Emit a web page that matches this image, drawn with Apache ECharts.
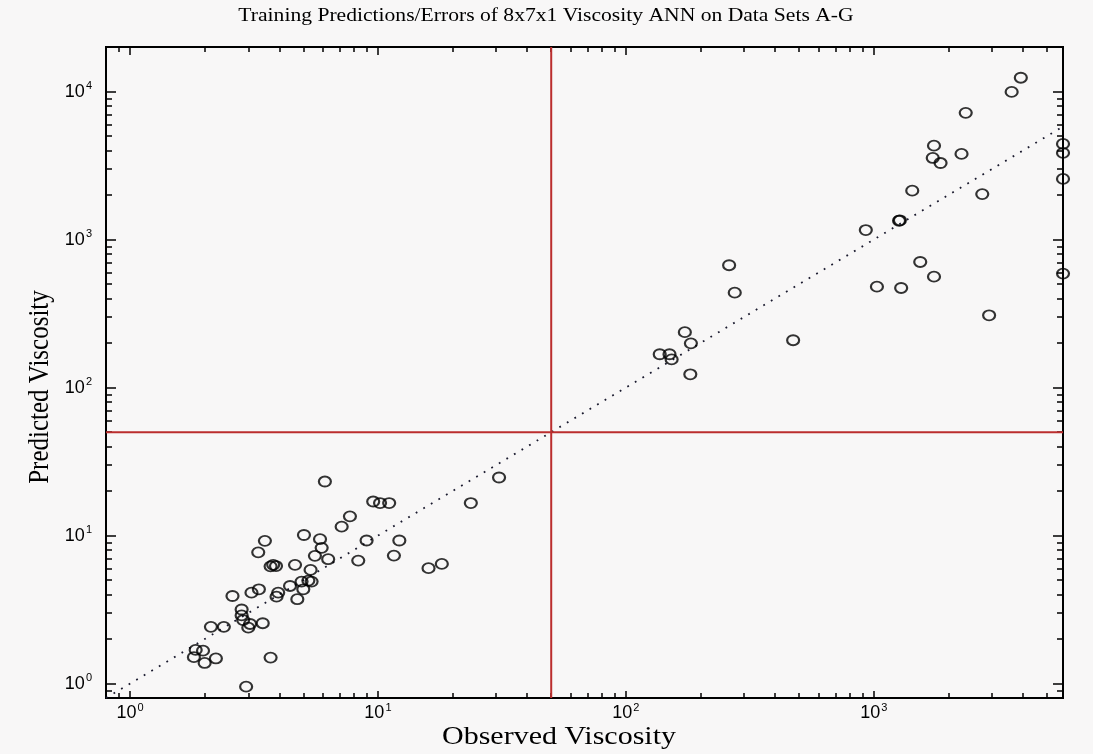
<!DOCTYPE html>
<html><head><meta charset="utf-8">
<script src="https://cdn.jsdelivr.net/npm/echarts@6/dist/echarts.min.js"></script>
<style>html,body{margin:0;padding:0;background:#f8f7f7}#c{width:1093px;height:754px}</style>
</head><body><div id="c"></div>
<script>
// ---- data ----
const observed = [
  3920, 3600, 2350, 5800, 1750, 5800, 2260, 1730, 1860, 5800,
  1430, 2740, 1265, 1275, 929, 1540, 1750, 1030, 1290, 5800,
  2920, 261, 275, 173, 183, 137, 150, 153, 182, 473,
  30.8, 23.7, 6.11, 9.57, 10.2, 11.1, 7.71, 7.14, 9.0, 12.2,
  11.6, 8.33, 18.1, 16.0, 3.50, 3.29, 5.03, 5.84, 5.93, 5.57,
  6.30, 3.78, 3.69, 3.88, 4.63, 5.35, 5.24, 4.92, 5.40, 4.42,
  5.00, 4.73, 3.31, 3.09, 2.59, 3.96, 3.90, 2.82, 2.82, 2.86,
  3.05, 3.00, 3.43, 2.12, 2.39, 1.84, 1.97, 1.81, 2.00, 2.22,
  3.69, 2.94
];
const predicted = [
  12400, 9950, 7180, 4430, 4310, 3850, 3790, 3560, 3290, 2570,
  2140, 2030, 1340, 1350, 1160, 706, 562, 481, 471, 589,
  308, 671, 438, 237, 199, 168, 168, 155, 123, 209,
  24.7, 16.6, 23.2, 17.0, 16.6, 16.6, 13.5, 11.5, 9.27, 9.27,
  7.33, 6.78, 6.44, 6.03, 9.22, 7.71, 10.1, 9.47, 8.27, 7.30,
  6.93, 6.35, 6.20, 6.23, 6.35, 5.87, 4.97, 4.89, 4.89, 4.57,
  4.34, 3.72, 4.34, 4.12, 3.91, 4.12, 3.87, 3.17, 2.89, 2.69,
  2.53, 2.39, 2.56, 2.42, 2.42, 1.69, 1.67, 1.51, 1.38, 1.48,
  1.50, 0.954
];
const xRange = [0.8, 5800];
const yRange = [0.8, 20000];
const xMajor = [1, 10, 100, 1000];
const xMinor = [0.8, 0.9, 2, 3, 4, 5, 6, 7, 8, 9, 20, 30, 40, 50, 60, 70, 80, 90,
  200, 300, 400, 500, 600, 700, 800, 900, 2000, 3000, 4000, 5000];
const yMajor = [1, 10, 100, 1000, 10000];
const yMinor = [0.8, 0.9, 2, 3, 4, 5, 6, 7, 8, 9, 20, 30, 40, 50, 60, 70, 80, 90,
  200, 300, 400, 500, 600, 700, 800, 900, 2000, 3000, 4000, 5000, 6000, 7000, 8000, 9000];
const refX = 50;   // vertical red reference line (observed)
const refY = 50;   // horizontal red reference line (predicted)
const titleText = 'Training Predictions/Errors of 8x7x1 Viscosity ANN on Data Sets A-G';
const xName = 'Observed Viscosity';
const yName = 'Predicted Viscosity';

// ---- chart ----
function labelFmt(v) {
  const e = Math.round(Math.log10(v));
  return '{b|10}{s|' + e + '}';
}
const richLabel = {
  b: {fontFamily: 'Liberation Sans', fontSize: 18, color: '#000', lineHeight: 22},
  s: {fontFamily: 'Liberation Sans', fontSize: 11, color: '#000', lineHeight: 22, verticalAlign: 'top', padding: [0,0,0,1]}
};
function axis(range, pos, ticks, len, labels, margin) {
  return {
    type: 'log', logBase: 10, min: range[0], max: range[1], position: pos,
    axisLine: {show: true, onZero: false, lineStyle: {color: '#000', width: 2}},
    axisTick: {show: true, inside: true, length: len, customValues: ticks, lineStyle: {color: '#000', width: 1.5}},
    axisLabel: labels ? {show: true, customValues: labels, formatter: labelFmt, rich: richLabel, margin: margin} : {show: false},
    splitLine: {show: false}, minorTick: {show: false}
  };
}
const chart = echarts.init(document.getElementById('c'));
const pts = observed.map((x, i) => [x, predicted[i]]);
chart.setOption({
  backgroundColor: '#f8f7f7',
  animation: false,
  grid: {left: 106, top: 47, width: 957, height: 651, containLabel: false},
  xAxis: [
    axis(xRange, 'bottom', xMajor, 7, xMajor, 4),
    axis(xRange, 'bottom', xMinor, 5, null),
    axis(xRange, 'top', xMajor, 8, null),
    axis(xRange, 'top', xMinor, 5, null)
  ],
  yAxis: [
    axis(yRange, 'left', yMajor, 10, yMajor, 14),
    axis(yRange, 'left', yMinor, 6, null),
    axis(yRange, 'right', yMajor, 10, null),
    axis(yRange, 'right', yMinor, 6, null)
  ],
  series: [
    {type: 'line', data: [[xRange[0], xRange[0]], [xRange[1], xRange[1]]], symbol: 'none', silent: true,
     lineStyle: {color: '#1a1a2e', width: 1.8, type: [1.8, 7]}, clip: true, z: 2},
    {type: 'line', data: [[refX, yRange[0]], [refX, yRange[1]]], symbol: 'none', silent: true,
     lineStyle: {color: '#bb2e2e', width: 2}, z: 3},
    {type: 'line', data: [[xRange[0], refY], [xRange[1], refY]], symbol: 'none', silent: true,
     lineStyle: {color: '#bb2e2e', width: 2}, z: 3},
    {type: 'scatter', data: pts, symbol: 'circle', symbolSize: [12, 10], clip: false,
     itemStyle: {color: 'rgba(0,0,0,0)', borderColor: '#000', borderWidth: 2}, z: 5}
  ],
  graphic: [
    {type: 'text', x: 546, y: 16, scaleX: 1.2, style: {text: titleText, font: '18px "Liberation Serif"', fill: '#000', textAlign: 'center', textVerticalAlign: 'middle'}},
    {type: 'text', x: 559, y: 737, scaleX: 1.2, style: {text: xName, font: '25px "Liberation Serif"', fill: '#000', textAlign: 'center', textVerticalAlign: 'middle'}},
    {type: 'text', x: 40, y: 387, rotation: Math.PI / 2, scaleY: 1.2, style: {text: yName, font: '25px "Liberation Serif"', fill: '#000', textAlign: 'center', textVerticalAlign: 'middle'}}
  ]
});
</script>
</body></html>
